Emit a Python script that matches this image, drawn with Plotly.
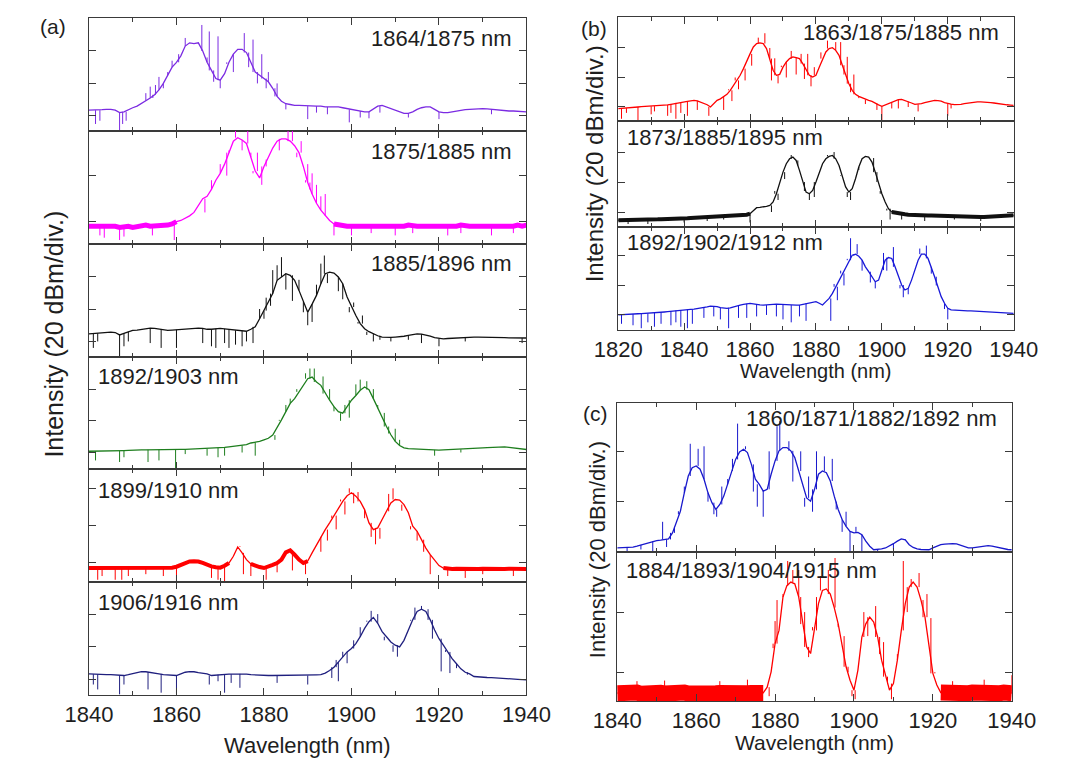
import plotly.graph_objects as go

W, H = 1074, 760
FONT = "Liberation Sans, Arial, Helvetica, sans-serif"
AX = "#3a3a3a"
TXT = "#1e1e1e"

# ---------------- wavelength grids (nm) ----------------
WL_A = list(range(1840, 1941))   # panels (a) and (c)
WL_B = list(range(1820, 1941))   # panel (b)
X_TICKS_A = [1840, 1860, 1880, 1900, 1920, 1940]
X_TICKS_B = [1820, 1840, 1860, 1880, 1900, 1920, 1940]

# ---------------- panel (a) spectra, dB (relative, 20 dB/div) ----------------
a1_label = "1864/1875 nm"
a1_db = [3.5, 3.5, 3.5, 3.8, 4, 4, 3.5, 2, 2.5, 4,
         5, 6, 7.5, 9.5, 11, 13, 16, 20, 25, 30,
         33, 37, 43, 45, 44.5, 45, 40, 33, 28, 23,
         22, 26, 33, 38, 41, 41, 39, 33, 27, 25,
         23, 21, 17, 12, 9, 7.5, 7, 6.5, 6.5, 6.3,
         6, 6, 6, 6, 5.5, 5.5, 5.5, 5.5, 5, 4.5,
         4, 3.5, 3, 2.5, 2.5, 4, 6, 6.5, 5.5, 4.5,
         3.5, 2.5, 1.5, 1.5, 2.5, 4, 5, 5.5, 5.5, 4,
         2.5, 2, 2, 2.5, 3, 3.5, 3.8, 4, 4.2, 4.5,
         4.5, 4.3, 4, 3.8, 3.5, 3.3, 3, 3, 2.8, 2.7,
         2.5]
a1_spk_wl = [1841.5, 1842.5, 1847, 1847.7, 1848.5, 1853, 1854, 1854.6, 1855.2, 1856, 1857,
             1858, 1859, 1860.5, 1862, 1865.8, 1867, 1867.5, 1868.5, 1869.5, 1870, 1871.5,
             1873, 1875.5, 1876.5, 1877.5, 1878.5, 1879.5, 1880.5, 1881, 1882.5, 1883, 1885,
             1890, 1892, 1894.5, 1899.5, 1902, 1904, 1906.5, 1913, 1920, 1932]
a1_spk_db = [-5, -3, -9, -5, -3, 14, 18, 11, 19, 24, 17,
             27, 34, 38, 48, 56, 36, 52, 21, 49, 17, 32,
             27, 51, 30, 47, 20, 38, 17, 27, 12, 20, 4,
             -2, 2, 1, -4, -1, -1.5, 2, -1, -2, 1]

a2_label = "1875/1885 nm"
a2_db = [-2, -2, -1.5, -2, -2, -1.5, -2, -2.5, -2, -2,
         -2.5, -2, -2, -1.5, -2, -2, -2, -1.5, -1.5, -1,
         0, 0.5, 1.5, 2.5, 4, 7, 10, 11, 14, 18,
         21, 25, 30, 35, 36.5, 35.5, 34, 28, 22, 19,
         24, 28, 32, 35, 36, 36, 35, 33, 30, 24,
         17, 12, 8, 5, 2.5, 0.5, -1, -1.5, -2, -2,
         -2, -2, -2.5, -2, -2, -2, -2, -2.5, -2, -2,
         -2, -2, -2, -1.5, -2, -2, -2, -2, -2.5, -2,
         -2, -2, -2, -2, -2, -1.5, -2, -2, -2, -2,
         -2, -2, -2.5, -2, -2, -2, -2, -2, -1.5, -2,
         -1.5]
a2_spk_wl = [1842.5, 1843.5, 1847, 1848, 1854.5, 1859.5, 1866.5, 1868, 1870, 1871.5, 1872,
             1873.5, 1875, 1876.3, 1877, 1877.5, 1878.5, 1879.5, 1880.5, 1883.5, 1885.5,
             1886.5, 1887.5, 1888.5, 1889.5, 1890, 1890.5, 1891, 1892, 1893, 1894, 1896,
             1900, 1904.5, 1910, 1914, 1922, 1925, 1932, 1937]
a2_spk_db = [-6, -7, -8, -6.5, -6, -8, 4, 18, 25, 20, 31,
             40, 31, 40, 30, 21, 30, 16, 27, 31, 40,
             40, 28, 35, 18, 25, 14, 21, 16, 11, 12, -6,
             -6, -5, -6, -5, -6, -5, -6, -5]

a3_label = "1885/1896 nm"
a3_db = [4.7, 5, 5, 5.3, 5.5, 5.8, 5.5, 4, 5, 6,
         6.8, 7, 7.5, 8, 8.2, 8, 7.5, 7, 6.8, 7,
         7.2, 7.5, 8, 8.2, 8.2, 8.2, 8, 7.5, 7.5, 7.8,
         8, 7.8, 7.5, 7.2, 6.8, 6.4, 6.3, 7.5, 9, 14,
         19, 24, 29.5, 37.7, 39.8, 41.8, 40.8, 37.7, 31.5, 24.3,
         18, 23, 28.4, 35.6, 41.8, 42.8, 42.2, 39.8, 35.6, 27.4,
         21.2, 16, 11, 7.8, 6, 4.7, 3.5, 2.7, 2.5, 2.5,
         2.7, 2.8, 3.2, 3.7, 4.2, 4.7, 4.5, 4, 3.2, 2.3,
         1.8, 1.6, 1.8, 2, 2.2, 2.3, 2.4, 2.5, 2.6, 2.7,
         2.7, 2.6, 2.5, 2.4, 2.3, 2.3, 2.2, 2.2, 2.2, 2.1,
         2.1]
a3_spk_wl = [1841, 1842, 1847, 1848, 1849, 1854, 1856.5, 1860, 1866, 1868, 1869, 1871,
             1872, 1873.5, 1875, 1876, 1877.5, 1879, 1880, 1880.5, 1881.5, 1882, 1883,
             1884, 1885, 1886.5, 1888, 1889, 1890, 1891, 1892, 1893, 1893.8, 1894.5,
             1897, 1898, 1899.5, 1900.5, 1901.5, 1902.5, 1903.5, 1905, 1906.5, 1909,
             1913, 1916, 1920, 1926, 1939]
a3_spk_db = [-4, 0, -9, -3, 0, -1, -4, -4, -1, -3, -4, -1,
             -4, -2, -3, 0, -1, 20, 14, 27, 22, 44, 47,
             52, 32, 25, 38, 18, 10, 12, 35, 48, 53, 36,
             31, 26, 18, 24, 12, 16, 4, 0, 1, 0,
             1, -1, -3, 0, -1]

a4_label = "1892/1903 nm"
a4_db = [0.8, 0.8, 0.8, 0.8, 0.9, 0.9, 1, 1, 1.2, 1.3,
         1.5, 1.5, 1.6, 1.6, 1.7, 1.7, 1.8, 1.8, 1.9, 1.9,
         1.9, 2, 2, 2.1, 2.2, 2.2, 2.3, 2.4, 2.6, 2.8,
         2.9, 3.2, 3.6, 4, 4.2, 4.4, 5, 6, 6.5, 7,
         8, 9, 11, 15.4, 20.6, 25.8, 31, 34, 38.3, 42.4,
         46.6, 47.6, 44.5, 42.4, 37.2, 33, 29, 25.8, 24.8, 29,
         33, 36, 39.3, 41.4, 39.7, 34, 27.9, 21.6, 16.4, 11.2,
         7, 4.4, 2.9, 2.5, 2.3, 2.1, 2, 1.9, 1.8, 1.6,
         1.5, 1.6, 1.7, 1.8, 1.9, 2, 2.1, 2.3, 2.5, 2.7,
         2.9, 3.1, 3.3, 3.4, 3.5, 3.5, 3.2, 2.8, 2.4, 2.1,
         1.9]
a4_spk_wl = [1841.5, 1847, 1848, 1853.5, 1856, 1859.8, 1862, 1867, 1869.5, 1871, 1875,
             1878, 1882.5, 1883.5, 1885, 1886, 1887.5, 1889.5, 1890.5, 1891.5, 1893.5,
             1895, 1896, 1897.5, 1898.5, 1899.5, 1901, 1902, 1903.5, 1905, 1906, 1907.5,
             1908.5, 1910, 1911, 1919, 1925]
a4_spk_db = [-5, -6, -3, -6, -5, -10, -1, -2, -3, -2, 0,
             -2, 8, 20, 30, 34, 40, 50, 53, 53, 48,
             40, 26, 20, 30, 22, 43, 46, 45, 40, 30, 25,
             12, 15, 8, -2, 0]

a5_label = "1899/1910 nm"
a5_db = [-2.7, -2.7, -2.5, -2.7, -2.8, -2.7, -2.5, -2.7, -2.8, -2.6,
         -2.5, -2.6, -2.7, -2.5, -2.6, -2.7, -2.5, -2.6, -2.7, -2.5,
         -2, -1, 0, 0.8, 0.9, 0.8, 0, -1, -1.8, -2.3,
         -2.5, -1.5, 0, 3.6, 8.6, 5.4, 1.8, -0.5, -1.5, -2.2,
         -2.7, -2, -1, 0, 1.8, 5.7, 6.8, 4.5, 1.8, 0,
         1, 5.4, 9.8, 14, 17.9, 21.5, 25.4, 29.5, 33, 36,
         37.6, 35.8, 33, 28.6, 21.5, 17.9, 18.8, 23.3, 27.7, 32.2,
         34, 33.7, 31.3, 26.9, 19.7, 17, 12.5, 8, 4.5, 1.8,
         -1.4, -2.7, -3.2, -3.2, -3.1, -3.2, -3.2, -3.1, -3.2, -3.2,
         -3.1, -3.2, -3.2, -3.1, -3.2, -3.2, -3.1, -3.2, -3.2, -3.1,
         -3.2]
a5_spk_wl = [1842, 1843, 1846, 1847.5, 1849, 1853, 1857, 1860, 1868, 1869.5, 1871,
             1874.5, 1875.3, 1877, 1880.5, 1883, 1886.5, 1889.5, 1893, 1894.5, 1895.5,
             1896.5, 1897.5, 1898.5, 1899.5, 1900.5, 1901.5, 1903, 1904.5, 1905.5, 1906.5,
             1908.5, 1909.5, 1911.5, 1913.5, 1915, 1916.5, 1918, 1922, 1926, 1930, 1937]
a5_spk_db = [-9, -7, -9, -9, -7, -6, -7, -10, -8, -9, -10,
             9, -6, -7, -9, -5, -4, -6, 6, 12, 24,
             18, 34, 26, 40, 32, 38, 24, 14, 10, 13,
             37, 40, 28, 18, 12, 6, -6, -7, -8, -6, -7]

a6_label = "1906/1916 nm"
a6_db = [3.5, 3.3, 3.2, 3, 3, 3, 2.8, 2.6, 2.5, 3,
         3.5, 4.2, 4.9, 4.8, 4.5, 4, 3.5, 3, 2.8, 2.6,
         2.5, 3.5, 4.5, 4.9, 4.8, 4.2, 4, 3.5, 2.5, 2.8,
         3, 3.2, 3.3, 3.4, 3.5, 3.5, 3.3, 3, 2.8, 2.6,
         2.5, 2.5, 2.5, 2.5, 2.5, 2.5, 2.5, 2.5, 2.5, 2.5,
         2.5, 2.7, 2.9, 3, 4, 5.6, 7.6, 10.7, 13.8, 16.9,
         19, 22, 26.2, 31.3, 35.4, 38, 34.4, 29.3, 26.2, 23,
         21, 20, 24, 30.3, 36.5, 41.6, 43, 41.6, 36.5, 30.3,
         25, 21, 16.9, 12.8, 9.7, 6.6, 4.5, 3.5, 1.9, 1.6,
         1.4, 1.3, 1.2, 1.1, 1, 0.9, 0.6, 0.4, 0.2, 0,
         -0.2]
a6_spk_wl = [1841, 1842, 1847, 1848, 1853.5, 1856.5, 1860, 1867.5, 1869.5, 1871, 1872.5,
             1874.5, 1883, 1890, 1894.5, 1895.5, 1896.5, 1897, 1898, 1899, 1900.5, 1902,
             1903.5, 1904.5, 1906, 1907.5, 1909.5, 1910.5, 1913.5, 1914.5, 1916, 1917.5,
             1918.5, 1920.5, 1921.5, 1922.5, 1924, 1926.5]
a6_spk_db = [-3, -6, -9, -3, -6, -8, -9, -3, -1, -8, -2,
             -5, -2, -3, 4, 1, 12, -1, 17, 10, 24, 32,
             36, 42, 40, 24, 17, 14, 36, 44, 45, 43,
             25, 5, 18, 4, 7, 3]

# ---------------- panel (b) spectra ----------------
b1_label = "1863/1875/1885 nm"
b1_db = [-1.1, -1, -0.8, -0.5, -0.3, -0.2, 0, 0.2, 0.3, 0.4,
         0.5, 0.6, 0.7, 0.9, 1.1, 1.4, 1.8, 2.3, 2.8, 3.1,
         3.4, 3.8, 4.2, 4.5, 4.2, 3.4, 2.5, 1.5, 0, 2,
         4.5, 5.5, 6.8, 8.6, 11.3, 14.7, 18, 21.5, 26, 30.5,
         36, 40.7, 43, 43.4, 43, 39.6, 32.8, 24.9, 21.5, 22.1,
         27, 30.5, 32.8, 34, 33.4, 32.8, 29.4, 24.9, 21.5, 20.3,
         21.5, 27, 32.8, 37.3, 39.6, 40.2, 38.4, 35, 28.3, 21.5,
         15.8, 11.3, 8.6, 7.2, 6.3, 5, 4.5, 3.8, 2.3, 1.4,
         0.5, 1.5, 2.3, 3.4, 4.5, 5, 5.2, 4.5, 3.6, 2.7,
         1.8, 1.8, 2.3, 3, 3.6, 4, 4.5, 4.3, 4, 3,
         2.3, 2, 1.6, 1.6, 1.8, 2.3, 2.7, 3, 3.4, 3.4,
         3.4, 3.4, 3.2, 3, 2.7, 2.3, 2, 1.8, 1.5, 1.3,
         1.1]
b1_spk_wl = [1821, 1822.5, 1826, 1830, 1831, 1835, 1836, 1837.5, 1839, 1841, 1844, 1847.5,
             1852, 1853.5, 1854.5, 1855.5, 1856.5, 1857.5, 1858.5, 1859.5, 1860.5, 1862.5,
             1864.5, 1866, 1866.5, 1867.5, 1868.5, 1869.5, 1871, 1872.5, 1874, 1875.5,
             1876.5, 1877.5, 1878.5, 1879.5, 1881.5, 1883.5, 1886, 1887.5, 1888.5, 1889.5,
             1890.5, 1891.5, 1893, 1895, 1898.5, 1900, 1903, 1905, 1908, 1911, 1920, 1921]
b1_spk_db = [-8, -4, -9, -5, -3, -6, -4, -8, -4, -6, -2, -6,
             -2, 12, 4, 20, 12, 26, 18, 36, 28, 47,
             50, 40, 18, 33, 16, 28, 20, 38, 22, 36,
             19, 36, 14, 27, 37, 45, 44, 44, 22, 34,
             10, 22, 6, 2, -2, -9, -1, -1, 0, -3, -6, -1]

b2_label = "1873/1885/1895 nm"
b2_db = [-5.5, -5.5, -5.4, -5.5, -5.3, -5.4, -5.5, -5.2, -5.3, -5.1,
         -5, -5, -4.9, -4.8, -4.8, -4.7, -4.6, -4.5, -4.5, -4.4,
         -4.4, -4.2, -4, -3.9, -3.8, -3.7, -3.5, -3.3, -3.1, -3,
         -2.9, -2.8, -2.7, -2.5, -2.3, -2.2, -2.2, -2.1, -2.1, -1.8,
         -1.1, 1.1, 2.9, 3.1, 3.3, 3.8, 4.4, 6.7, 12.2, 20,
         26.6, 32.2, 35.5, 36.6, 34.4, 27.8, 20, 13.3, 12.2, 14.4,
         20, 26.6, 32.2, 35.5, 37.1, 37.7, 35.5, 31, 24.4, 16.7,
         13.3, 15.5, 22.2, 30, 35.5, 37.1, 36.6, 33.3, 26.6, 18.9,
         12.2, 6.7, 2.2, 0, -0.5, -1.1, -1.3, -1.5, -1.8, -2,
         -2.2, -2.2, -2.3, -2.3, -2.4, -2.4, -2.5, -2.5, -2.6, -2.7,
         -2.8, -2.8, -2.9, -3, -3, -3.1, -3.2, -3.2, -3.2, -3.3,
         -3.3, -3.3, -3.2, -3.2, -3.1, -3, -2.9, -2.7, -2.5, -2.3,
         -2.2]
b2_spk_wl = [1823, 1829, 1840, 1847, 1852, 1860, 1866.5, 1867.5, 1868.5, 1870.5, 1872.5,
             1874.5, 1876.5, 1878, 1879.5, 1883.5, 1885.5, 1887.5, 1889.5, 1890.5, 1893,
             1897.5, 1898.5, 1899.5, 1901.5, 1902.5, 1906, 1913, 1922, 1930]
b2_spk_db = [-8, -8, -7, -6, -5, -7, 0, 14, 8, 22, 38,
             31, 14, 8, 10, 38, 40, 24, 10, 8, 28,
             36, 20, 14, 1, -5, -5, -6, -5, -6]

b3_label = "1892/1902/1912 nm"
b3_db = [0, 0.2, 0.4, 0.5, 0.6, 0.7, 0.8, 0.9, 1, 1,
         1.1, 1.3, 1.5, 1.7, 2, 2.2, 2.5, 2.8, 3, 3.2,
         3.4, 3.6, 3.8, 4, 4.3, 4.5, 5, 5.5, 6, 6,
         5.6, 5, 4.6, 4.5, 4.8, 5.6, 6.2, 6.7, 7.2, 7.6,
         7.9, 7.5, 7, 6.8, 6.7, 6.7, 6.9, 7.2, 7.4, 7.2,
         7, 6.8, 6.7, 6.7, 6.7, 6.7, 7.2, 7.9, 8.5, 9,
         9, 7.9, 6.7, 9, 11.2, 14.6, 19.1, 23.6, 28.1, 32.6,
         37.1, 40.5, 41.2, 39.8, 37.1, 32.6, 29.3, 25.9, 22.5, 23.6,
         30.4, 37.1, 38.9, 38.3, 32.6, 25.9, 20.3, 16.9, 18, 23.6,
         30.4, 37.1, 41.2, 41.2, 38.3, 32.6, 25.9, 19.1, 12.4, 7.9,
         4.5, 3.4, 3.2, 3, 3, 3, 2.8, 2.7, 2.6, 2.4,
         2.2, 2.1, 2, 1.9, 1.8, 1.7, 1.5, 1.4, 1.2, 1.1,
         1.1]
b3_spk_wl = [1821, 1824.5, 1827, 1829, 1831, 1833, 1836, 1837.5, 1839, 1841, 1842.5, 1846,
             1849, 1851, 1853.5, 1856.5, 1859, 1862, 1865, 1868, 1870, 1872.5, 1875, 1877,
             1884.5, 1885.5, 1886.5, 1887.5, 1888.5, 1889.5, 1890.5, 1891.5, 1892.5, 1894,
             1896.5, 1898, 1900.5, 1901.5, 1903.5, 1905.5, 1906.5, 1908, 1911.5, 1913.5,
             1915, 1916.5, 1919, 1920]
b3_spk_db = [-6, -7, -9, -5, -8, -6, -7, -5, -8, -9, -6, -2,
             -1, -3, -9, -2, -2, -1, 0, -1, -3, -5, -1, -4,
             -4, 21, 10, 30, 20, 38, 52, 40, 48, 30,
             22, 18, 42, 30, 46, 18, 12, 14, 45, 47,
             28, 20, 4, -3]

# ---------------- panel (c) spectra ----------------
c1_label = "1860/1871/1882/1892 nm"
c1_db = [1.6, 1.6, 1.6, 1.6, 1.9, 2.3, 2.8, 3.3, 3.8, 4.3,
         4.5, 4.7, 5, 5.2, 7.6, 11.6, 16.2, 23.5, 30.2, 33.5,
         34.2, 32.9, 28.9, 23.5, 19.6, 16.9, 18.9, 22.2, 26.9, 32.2,
         36.8, 39.8, 40.8, 39.5, 34.8, 28.9, 26.9, 24.2, 24.9, 30.9,
         36.2, 40.2, 41.5, 41.5, 40.2, 37.5, 32.2, 26.2, 21.5, 20.2,
         24.9, 30.9, 32.2, 31.5, 28.2, 22.2, 16.9, 12.9, 10.2, 8.2,
         7.6, 7.8, 6.9, 4.3, 2.3, 0.9, 1, 1.2, 1.6, 2.3,
         3.3, 4.3, 5.2, 4.8, 2.9, 1.8, 1.2, 1, 0.9, 0.9,
         1.6, 2.3, 2.9, 3.1, 3.3, 3.3, 3.2, 2.6, 2, 1.6,
         1.6, 1.8, 2, 2.3, 2.5, 2.3, 2, 1.5, 1.2, 1,
         0.9]
c1_spk_wl = [1842.5, 1846, 1849, 1851.5, 1852.5, 1853.5, 1854.5, 1855.5, 1857, 1858.5,
             1860.5, 1862, 1863, 1864.5, 1865.2, 1866.5, 1868, 1869.2, 1870.5, 1872.5,
             1874.5, 1875.5, 1877, 1878.5, 1880.5, 1881.2, 1883.5, 1884.5, 1886.5, 1887.5,
             1888.5, 1889.5, 1890.5, 1892.5, 1894.5, 1895.5, 1897, 1898, 1899, 1900.5,
             1902, 1906, 1910, 1913]
c1_spk_db = [-2, 1, 0, 12, 2, 5, 10, 15, 26, 43,
             41, 42, 20, 15, 14, 26, 29, 37, 51, 42,
             24, 18, 14, 40, 50, 52, 44, 28, 40, 18,
             30, 16, 40, 38, 37, 20, 8, 16, 0, 10,
             0, 0, 1, 5]

c2_label = "1884/1893/1904/1915 nm"
c2_db = [-7, -6.8, -7.1, -6.9, -7, -6.8, -7.2, -6.9, -7, -6.8,
         -7, -6.9, -7.1, -6.8, -7, -6.9, -7, -6.8, -7.1, -6.9,
         -7, -6.8, -6.9, -7, -6.8, -7, -6.9, -7.1, -6.8, -7,
         -6.9, -7, -6.8, -7, -6.9, -6.8, -7, -6.9, -5, 0.1,
         9.5, 13.9, 25, 28.8, 30, 29.4, 25, 16.1, 8.4, 6.2,
         13.9, 22.8, 27.2, 27.7, 26, 21.5, 16.1, 9.5, 1.8, -2.7,
         -6, 0.7, 11.7, 16.1, 18.3, 16.7, 11.7, 4, -1.5, -6,
         -3.8, 4, 13.9, 22.8, 28.3, 30, 28.3, 23.9, 18.3, 9.5,
         -0.4, -4.3, -6.8, -7, -6.9, -7, -6.8, -7, -6.9, -7,
         -6.8, -7, -6.9, -7.1, -6.8, -7, -6.9, -7, -6.8, -6.9,
         -7]
c2_spk_wl = [1845, 1852, 1866, 1873, 1878.5, 1879.5, 1880, 1880.5, 1882, 1883.2, 1884.5,
             1886, 1886.5, 1887.5, 1888.5, 1889.5, 1890.5, 1891.5, 1893.5, 1895.2, 1896,
             1897.5, 1898.5, 1899.5, 1900.3, 1902.5, 1903.5, 1905.5, 1906.5, 1907.5, 1908.5,
             1909.5, 1911, 1912.5, 1913.5, 1914.5, 1916.5, 1917.5, 1918.5, 1919.5, 1920.5,
             1925, 1933, 1940]
c2_spk_db = [-3, -2.8, -3, -2.5, -8, 8, 17, 24, 26, 37, 34,
             34, 16, 20, 5, 15, 25, 32, 34, 38, 15,
             12, 0, -8, -9, 20, 12, 22, 6, 10, -4,
             -9, 6, 37, 20, 31, 33, 24, 26, 18, 0,
             -3, -2.5, -1]

# ---------------- styling / layout (pixels) ----------------
A_X = (68, 526)
A_Y = [18, 130.8, 243.7, 356.5, 469.3, 582.2, 695]
B_X = (622, 1036)
B_Y = [17, 121, 227, 330]
C_X = (621, 1034)
C_Y = [403, 552, 701]

subplots = [
    dict(db=a1_db, sw=a1_spk_wl, sd=a1_spk_db, wl=WL_A, color="#7B2BE2", xp=A_X, yp=(A_Y[0], A_Y[1]),
         yr=[-9.2, 60.3], yt=[0, 20, 40], xr=[1840, 1940], xt=X_TICKS_A, lab=False,
         text=a1_label, side="right", ty=39, thick=[], tw=0),
    dict(db=a2_db, sw=a2_spk_wl, sd=a2_spk_db, wl=WL_A, color="#FF00FF", xp=A_X, yp=(A_Y[1], A_Y[2]),
         yr=[-9.6, 39.5], yt=[0, 20], xr=[1840, 1940], xt=X_TICKS_A, lab=False,
         text=a2_label, side="right", ty=152, thick=[(1840, 1860), (1896, 1940)], tw=5),
    dict(db=a3_db, sw=a3_spk_wl, sd=a3_spk_db, wl=WL_A, color="#111111", xp=A_X, yp=(A_Y[2], A_Y[3]),
         yr=[-9.3, 60.3], yt=[0, 20, 40], xr=[1840, 1940], xt=X_TICKS_A, lab=False,
         text=a3_label, side="right", ty=263, thick=[], tw=0),
    dict(db=a4_db, sw=a4_spk_wl, sd=a4_spk_db, wl=WL_A, color="#1E7E1E", xp=A_X, yp=(A_Y[3], A_Y[4]),
         yr=[-10.6, 60.6], yt=[0, 20, 40], xr=[1840, 1940], xt=X_TICKS_A, lab=False,
         text=a4_label, side="left", ty=377, thick=[], tw=0),
    dict(db=a5_db, sw=a5_spk_wl, sd=a5_spk_db, wl=WL_A, color="#FF0000", xp=A_X, yp=(A_Y[4], A_Y[5]),
         yr=[-10.3, 50.2], yt=[0, 20, 40], xr=[1840, 1940], xt=X_TICKS_A, lab=False,
         text=a5_label, side="left", ty=490, thick=[(1840, 1872), (1877, 1890), (1921, 1940)], tw=4),
    dict(db=a6_db, sw=a6_spk_wl, sd=a6_spk_db, wl=WL_A, color="#1F1F7E", xp=A_X, yp=(A_Y[5], A_Y[6]),
         yr=[-9.4, 59.5], yt=[0, 20, 40], xr=[1840, 1940], xt=X_TICKS_A, lab=True,
         text=a6_label, side="left", ty=602, thick=[], tw=0),
    dict(db=b1_db, sw=b1_spk_wl, sd=b1_spk_db, wl=WL_B, color="#FF0000", xp=B_X, yp=(B_Y[0], B_Y[1]),
         yr=[-9.5, 61], yt=[0, 20, 40], xr=[1820, 1940], xt=X_TICKS_B, lab=False,
         text=b1_label, side="right", ty=33, thick=[], tw=0),
    dict(db=b2_db, sw=b2_spk_wl, sd=b2_spk_db, wl=WL_B, color="#111111", xp=B_X, yp=(B_Y[1], B_Y[2]),
         yr=[-10, 60.7], yt=[0, 20, 40], xr=[1820, 1940], xt=X_TICKS_B, lab=False,
         text=b2_label, side="left", ty=137, thick=[(1820, 1860), (1903, 1940)], tw=4),
    dict(db=b3_db, sw=b3_spk_wl, sd=b3_spk_db, wl=WL_B, color="#1818D8", xp=B_X, yp=(B_Y[2], B_Y[3]),
         yr=[-10.2, 59.6], yt=[0, 20, 40], xr=[1820, 1940], xt=X_TICKS_B, lab=True,
         text=b3_label, side="left", ty=242, thick=[], tw=0),
    dict(db=c1_db, sw=c1_spk_wl, sd=c1_spk_db, wl=WL_A, color="#1818CC", xp=C_X, yp=(C_Y[0], C_Y[1]),
         yr=[0, 59.2], yt=[0, 20, 40], xr=[1840, 1940], xt=X_TICKS_A, lab=False,
         text=c1_label, side="right", ty=418, thick=[], tw=0),
    dict(db=c2_db, sw=c2_spk_wl, sd=c2_spk_db, wl=WL_A, color="#FF0000", xp=C_X, yp=(C_Y[1], C_Y[2]),
         yr=[-9.6, 40], yt=[0, 20], xr=[1840, 1940], xt=X_TICKS_A, lab=True,
         text=c2_label, side="left", ty=570, thick=[(1840, 1877), (1922, 1940)], tw=16),
]

fig = go.Figure()
layout = dict(width=W, height=H, margin=dict(l=0, r=0, t=0, b=0),
              paper_bgcolor="white", plot_bgcolor="white", showlegend=False,
              font=dict(family=FONT, color=TXT))
annotations = []

for i, sp in enumerate(subplots, start=1):
    xa = "x" if i == 1 else f"x{i}"
    ya = "y" if i == 1 else f"y{i}"
    wl, db = sp["wl"], sp["db"]
    w0 = wl[0]
    # thick noisy baseline parts
    for (lo, hi) in sp["thick"]:
        xs = [w for w in wl if lo <= w <= hi]
        ys = [db[w - w0] for w in xs]
        fig.add_trace(go.Scatter(x=xs, y=ys, mode="lines", xaxis=xa, yaxis=ya,
                                 line=dict(color=sp["color"], width=sp["tw"]), hoverinfo="skip"))
    # main trace
    fig.add_trace(go.Scatter(x=wl, y=db, mode="lines", xaxis=xa, yaxis=ya,
                             line=dict(color=sp["color"], width=1.3)))
    # spikes
    sx, sy = [], []
    for w, tip in zip(sp["sw"], sp["sd"]):
        base = db[int(round(w)) - w0]
        sx += [w, w, None]
        sy += [base, tip, None]
    fig.add_trace(go.Scatter(x=sx, y=sy, mode="lines", xaxis=xa, yaxis=ya,
                             line=dict(color=sp["color"], width=1.0), hoverinfo="skip"))

    x0, x1 = sp["xp"]
    y0, y1 = sp["yp"]
    layout["xaxis" if i == 1 else f"xaxis{i}"] = dict(
        domain=[x0 / W, x1 / W], range=sp["xr"], anchor=ya,
        showline=True, linecolor=AX, linewidth=1, mirror="ticks",
        ticks="inside", ticklen=7, tickwidth=1.2, tickcolor=AX,
        tickvals=sp["xt"], ticktext=[str(t) for t in sp["xt"]],
        minor=dict(tickvals=[t + 10 for t in sp["xt"][:-1]], ticks="inside", ticklen=4,
                   tickwidth=1.2, tickcolor=AX),
        showgrid=False, zeroline=False, showticklabels=sp["lab"],
        tickfont=dict(size=22, color=TXT, family=FONT))
    layout["yaxis" if i == 1 else f"yaxis{i}"] = dict(
        domain=[1 - y1 / H, 1 - y0 / H], range=sp["yr"], anchor=xa,
        showline=True, linecolor=AX, linewidth=1, mirror="ticks",
        ticks="inside", ticklen=7, tickwidth=1.2, tickcolor=AX,
        tickvals=sp["yt"], showticklabels=False, showgrid=False, zeroline=False)

    if sp["side"] == "right":
        tx, anc = (x1 - 13) / W, "right"
    else:
        tx, anc = (x0 + 7) / W, "left"
    annotations.append(dict(text=sp["text"], x=tx, y=1 - sp["ty"] / H, xref="paper", yref="paper",
                            xanchor=anc, yanchor="middle", showarrow=False,
                            font=dict(size=22, color=TXT, family=FONT)))

def ann(text, xpx, ypx, size, angle=0):
    return dict(text=text, x=xpx / W, y=1 - ypx / H, xref="paper", yref="paper",
                xanchor="center", yanchor="middle", showarrow=False, textangle=angle,
                font=dict(size=size, color=TXT, family=FONT))

annotations += [
    ann("(a)", 30, 27, 21),
    ann("(b)", 597, 29, 21),
    ann("(c)", 598, 413, 21),
    ann("Wavelength (nm)", 297, 745, 22),
    ann("Wavelength (nm)", 829, 371, 20),
    ann("Wavelength (nm)", 827, 742, 21),
    ann("Intensity (20 dBm/div.)", 31, 334, 25, -90),
    ann("Intensity (20 dBm/div.)", 597, 164, 24, -90),
    ann("Intensity (20 dBm/div.)", 600, 550, 22, -90),
]
layout["annotations"] = annotations
fig.update_layout(**layout)
fig.write_html("out.html")
